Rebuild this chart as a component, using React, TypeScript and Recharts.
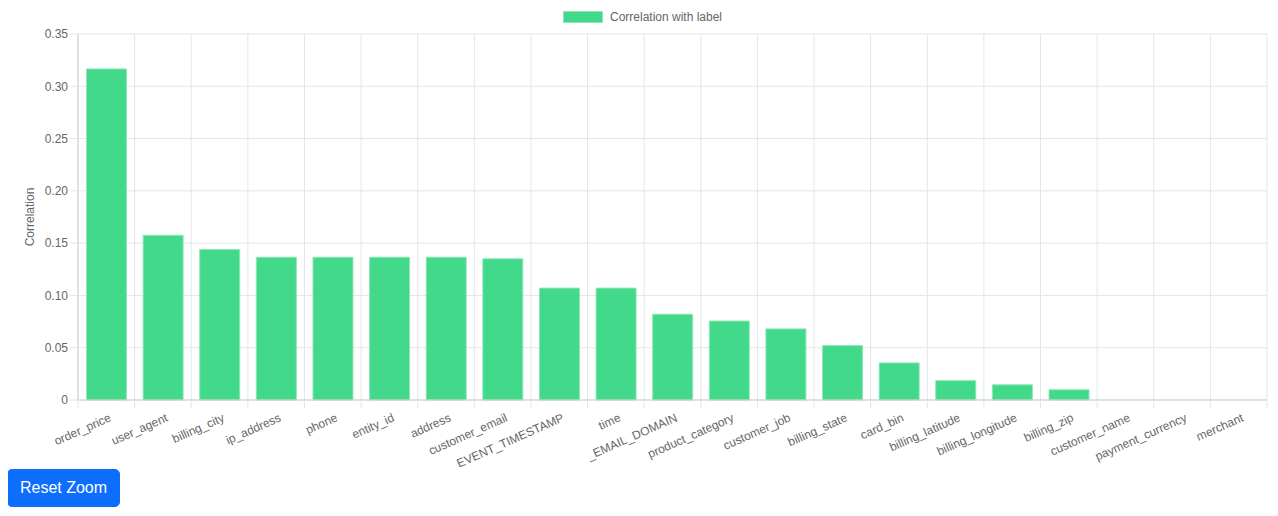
import { Bar, BarChart, CartesianGrid, Legend, XAxis, YAxis } from "recharts";

const features = [
  "order_price", "user_agent", "billing_city", "ip_address", "phone", "entity_id", "address",
  "customer_email", "EVENT_TIMESTAMP", "time", "_EMAIL_DOMAIN", "product_category", "customer_job",
  "billing_state", "card_bin", "billing_latitude", "billing_longitude", "billing_zip",
  "customer_name", "payment_currency", "merchant",
];

const correlations = [
  0.3166, 0.1575, 0.1440, 0.1365, 0.1365, 0.1365, 0.1365,
  0.1350, 0.1070, 0.1070, 0.0820, 0.0755, 0.0680,
  0.0520, 0.0355, 0.0185, 0.0145, 0.0098,
  0, 0, 0,
];

const yTicks = [0, 0.05, 0.1, 0.15, 0.2, 0.25, 0.3, 0.35];

const data = features.map((name, i) => ({ name, value: correlations[i] }));

const FONT = "'Liberation Sans', Arial, sans-serif";
const TEXT = "#666";
const GRID = "#e5e5e5";
const AXIS = "#cfcfcf";
const GREEN = "#42d98a";
const GREEN_BORDER = "#8fe6b8";

function XTick(props: any) {
  const { x, y, payload, index, width, visibleTicksCount } = props;
  const step = (width || 1189) / visibleTicksCount;
  const left = x - step / 2;
  return (
    <g>
      <line x1={left} x2={left} y1={y - 8} y2={y} stroke={GRID} />
      {index === visibleTicksCount - 1 && (
        <line x1={x + step / 2} x2={x + step / 2} y1={y - 8} y2={y} stroke={GRID} />
      )}
      <g transform={`translate(${x + 4},${y + 9})`}>
        <text
          textAnchor="end"
          transform="rotate(-24)"
          fill={TEXT}
          fontSize={12}
          fontFamily={FONT}
          dy={4}
        >
          {payload.value}
        </text>
      </g>
    </g>
  );
}

function LegendContent() {
  return (
    <div style={{ display: "flex", justifyContent: "center", alignItems: "center", fontFamily: FONT, fontSize: 12, color: TEXT, paddingLeft: 10 }}>
      <span style={{ width: 38, height: 10, background: GREEN, border: `1px solid ${GREEN_BORDER}`, marginRight: 7 }} />
      <span>Correlation with label</span>
    </div>
  );
}

export default function App() {
  return (
    <div style={{ position: "relative", width: 1262, height: 500 }}>
      <BarChart
        width={1262}
        height={470}
        data={data}
        margin={{ top: 12, right: 3, left: 0, bottom: 0 }}
        barCategoryGap="15%"
      >
        <CartesianGrid
          stroke={GRID}
          verticalCoordinatesGenerator={({ offset }: any) =>
            Array.from({ length: features.length + 1 }, (_, i) => offset.left + (i * offset.width) / features.length)
          }
        />
        <XAxis
          dataKey="name"
          interval={0}
          height={78}
          tickLine={false}
          axisLine={{ stroke: AXIS }}
          tick={<XTick />}
        />
        <YAxis
          width={70}
          domain={[0, 0.35]}
          ticks={yTicks}
          tickSize={8}
          tickLine={{ stroke: GRID }}
          axisLine={{ stroke: AXIS }}
          tick={{ fill: TEXT, fontSize: 12, fontFamily: FONT }}
          tickFormatter={(v: number) => (v === 0 ? "0" : v.toFixed(2))}
          label={{
            content: ({ viewBox }: any) => (
              <text
                x={viewBox.x + 22}
                y={viewBox.y + viewBox.height / 2}
                transform={`rotate(-90, ${viewBox.x + 22}, ${viewBox.y + viewBox.height / 2})`}
                textAnchor="middle"
                dominantBaseline="central"
                fill={TEXT}
                fontSize={12}
                fontFamily={FONT}
              >
                Correlation
              </text>
            ),
          }}
        />
        <Legend verticalAlign="top" wrapperStyle={{ top: 2 }} content={<LegendContent />} />
        <Bar dataKey="value" fill={GREEN} stroke={GREEN_BORDER} strokeWidth={1} isAnimationActive={false} />
      </BarChart>
      <button
        style={{
          position: "absolute",
          left: -1,
          top: 461,
          width: 113,
          height: 38,
          background: "#0d6efd",
          color: "#fff",
          border: "1px solid #0d6efd",
          borderRadius: 5,
          fontSize: 16,
          fontFamily: FONT,
          padding: 0,
          whiteSpace: "nowrap",
        }}
      >
        Reset Zoom
      </button>
    </div>
  );
}
